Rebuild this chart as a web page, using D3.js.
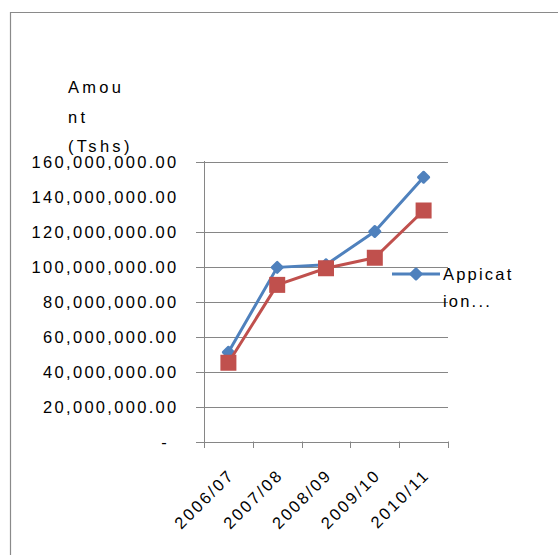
<!DOCTYPE html>
<html>
<head>
<meta charset="utf-8">
<script src="https://cdn.jsdelivr.net/npm/d3@7/dist/d3.min.js"></script>
<style>
  html, body { margin: 0; padding: 0; background: #ffffff; }
  svg { display: block; }
  text { font-family: "Liberation Sans", Arial, sans-serif; fill: #000; }
</style>
</head>
<body>
<svg id="chart" width="558" height="555"></svg>
<script>
// Financial years on the category axis
const years = ["2006/07", "2007/08", "2008/09", "2009/10", "2010/11"];
// Amounts in Tshs
const applicationAmounts = [51000000, 99500000, 101000000, 120000000, 151000000];
const approvedAmounts = [45000000, 89500000, 99000000, 105000000, 132000000];
// Value axis ticks
const yTicks = [0, 20000000, 40000000, 60000000, 80000000, 100000000, 120000000, 140000000, 160000000];
const gridValues = [0, 20000000, 40000000, 60000000, 80000000, 100000000, 120000000, 160000000];
const titleLines = ["Amou", "nt", "(Tshs)"];
const legendLines = ["Appicat", "ion..."];

const svg = d3.select("#chart");
const axisColor = "#868686";
const blue = "#4F81BD";
const red = "#C0504D";

const x = d3.scaleBand().domain(years).range([204, 448]);
const y = d3.scaleLinear().domain([0, 160000000]).range([441.5, 161.5]);
const cx = d => x(d) + x.bandwidth() / 2;

// Outer frame (top and left edges)
svg.append("path")
  .attr("d", "M10.5,555 V12.5 H558")
  .attr("fill", "none").attr("stroke", "#8a8a8a").attr("stroke-width", 1.2);

// Horizontal gridlines, extending left as tick marks
svg.append("g").selectAll("line").data(gridValues).join("line")
  .attr("x1", 196).attr("x2", 448)
  .attr("y1", d => Math.round(y(d)) + 0.5).attr("y2", d => Math.round(y(d)) + 0.5)
  .attr("stroke", axisColor).attr("stroke-width", 1);

// Vertical value axis line
svg.append("line")
  .attr("x1", 204.5).attr("x2", 204.5).attr("y1", 161).attr("y2", 442)
  .attr("stroke", axisColor).attr("stroke-width", 1);

// Category axis tick marks at band edges
const edges = years.map(d => x(d)).concat([x.range()[1]]);
svg.append("g").selectAll("line").data(edges).join("line")
  .attr("x1", d => Math.round(d) + 0.5).attr("x2", d => Math.round(d) + 0.5)
  .attr("y1", 441.5).attr("y2", 448)
  .attr("stroke", axisColor).attr("stroke-width", 1);

// Value axis labels
const fmt = d => d === 0 ? "-" : d3.format(",.2f")(d);
svg.append("g").selectAll("text").data(yTicks).join("text")
  .attr("x", d => d === 0 ? 169 : 178.5)
  .attr("y", d => y(d) + 6)
  .attr("text-anchor", "end")
  .attr("font-size", 16.5)
  .attr("letter-spacing", 2.3)
  .text(fmt);

// Axis title
svg.append("g").selectAll("text").data(titleLines).join("text")
  .attr("x", 68)
  .attr("y", (d, i) => 93 + i * 29.5)
  .attr("font-size", 16.5)
  .attr("letter-spacing", 3.3)
  .text(d => d);

// Rotated category labels
svg.append("g").selectAll("text").data(years).join("text")
  .attr("transform", d => `translate(${cx(d) + 7},${476}) rotate(-45)`)
  .attr("text-anchor", "end")
  .attr("font-size", 16.5)
  .attr("letter-spacing", 2.4)
  .text(d => d);

const line = d3.line().x((d, i) => cx(years[i])).y(d => y(d));

// Application series: line with diamond markers (squares turned 45 degrees)
svg.append("path").datum(applicationAmounts)
  .attr("d", line).attr("fill", "none")
  .attr("stroke", blue).attr("stroke-width", 3).attr("stroke-linejoin", "round");
const diamond = d3.symbol().type(d3.symbolSquare).size(56);
svg.append("g").selectAll("path").data(applicationAmounts).join("path")
  .attr("transform", (d, i) => `translate(${cx(years[i])},${y(d)}) rotate(45)`)
  .attr("d", diamond).attr("fill", blue)
  .attr("stroke", blue).attr("stroke-width", 2.5).attr("stroke-linejoin", "round");

// Approved series: line with square markers
svg.append("path").datum(approvedAmounts)
  .attr("d", line).attr("fill", "none")
  .attr("stroke", red).attr("stroke-width", 3).attr("stroke-linejoin", "round");
const sq = 16;
svg.append("g").selectAll("rect").data(approvedAmounts).join("rect")
  .attr("x", (d, i) => cx(years[i]) - sq / 2)
  .attr("y", d => y(d) - sq / 2)
  .attr("width", sq).attr("height", sq)
  .attr("fill", red);

// Legend
const lg = svg.append("g");
lg.append("line").attr("x1", 392).attr("x2", 440).attr("y1", 274).attr("y2", 274)
  .attr("stroke", blue).attr("stroke-width", 3);
lg.append("path").attr("transform", "translate(416,274) rotate(45)").attr("d", diamond).attr("fill", blue)
  .attr("stroke", blue).attr("stroke-width", 2.5).attr("stroke-linejoin", "round");
lg.selectAll("text").data(legendLines).join("text")
  .attr("x", 443).attr("y", (d, i) => 280 + i * 27)
  .attr("font-size", 16.5)
  .attr("letter-spacing", 2.2)
  .text(d => d);
</script>
</body>
</html>
